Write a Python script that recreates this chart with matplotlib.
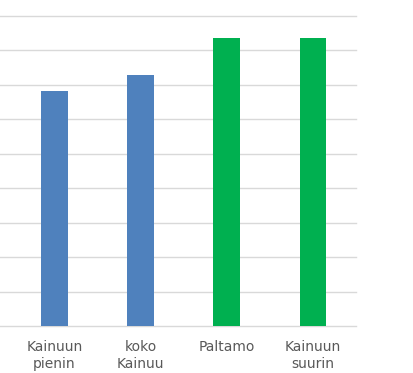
import matplotlib
matplotlib.use("Agg")
import matplotlib.pyplot as plt

# Category labels and bar heights (in gridline units)
categories = ["Kainuun\npienin", "koko\nKainuu", "Paltamo", "Kainuun\nsuurin"]
values = [6.83, 7.30, 8.37, 8.37]
bar_colors = ["#4f81bd", "#4f81bd", "#00b050", "#00b050"]
grid_levels = list(range(0, 10))

W, H = 413, 373
fig = plt.figure(figsize=(W / 100, H / 100), dpi=100)
ax = fig.add_axes([0, 47 / H, 356 / W, 310 / H])

x = list(range(len(categories)))
ax.bar(x, values, width=0.31, color=bar_colors, zorder=3)

for lvl in grid_levels:
    ax.axhline(lvl, color="#d9d9d9", linewidth=1.0, zorder=1, clip_on=False)

ax.set_xlim(-0.632, 3.5)
ax.set_ylim(0, 9)
ax.set_yticks([])
ax.set_xticks(x)
ax.set_xticklabels(categories, fontsize=10, color="#595959",
                   linespacing=1.3, family="DejaVu Sans")
ax.tick_params(axis="x", length=0, pad=10)
for s in ax.spines.values():
    s.set_visible(False)

fig.savefig("out.png", dpi=100)
